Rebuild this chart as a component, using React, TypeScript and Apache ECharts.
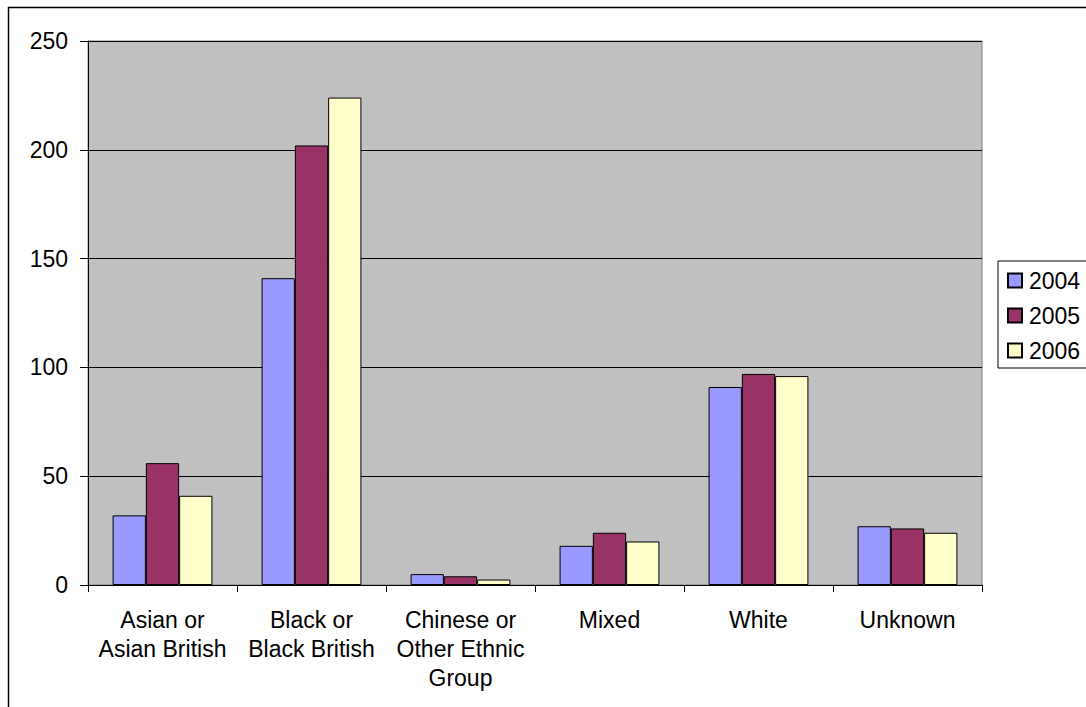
import React, { useEffect, useRef } from "react";
import * as echarts from "echarts";

const categories = [
  "Asian or\nAsian British",
  "Black or\nBlack British",
  "Chinese or\nOther Ethnic\nGroup",
  "Mixed",
  "White",
  "Unknown",
];
const seriesNames = ["2004", "2005", "2006"];
const values2004 = [32, 141, 5, 18, 91, 27];
const values2005 = [56, 202, 4, 24, 97, 26];
const values2006 = [41, 224, 2.5, 20, 96, 24];
const colors = ["#9999FF", "#993366", "#FFFFCC"];
const yTicks = { min: 0, max: 250, interval: 50 };

const FONT = "'Liberation Sans', Arial, sans-serif";

export default function App() {
  const ref = useRef<HTMLDivElement>(null);
  useEffect(() => {
    if (!ref.current) return;
    const chart = echarts.init(ref.current, null, { renderer: "svg" });
    const data = [values2004, values2005, values2006];
    chart.setOption({
      animation: false,
      backgroundColor: "#ffffff",
      textStyle: { fontFamily: FONT, color: "#000" },
      grid: {
        left: 88,
        top: 41,
        right: 104,
        bottom: 122,
        show: true,
        backgroundColor: "#C0C0C0",
        borderColor: "#808080",
        borderWidth: 1,
      },
      legend: {
        orient: "vertical",
        left: 998,
        top: 261,
        padding: [8, 30, 6, 9],
        itemGap: 12,
        itemWidth: 14,
        itemHeight: 14,
        icon: "rect",
        backgroundColor: "#ffffff",
        borderColor: "#000",
        borderWidth: 1,
        textStyle: { fontFamily: FONT, fontSize: 23, lineHeight: 22, color: "#000", padding: [0, 0, 0, 2] },
        data: seriesNames,
      },
      xAxis: {
        type: "category",
        data: categories,
        axisLine: { lineStyle: { color: "#000", width: 1 } },
        axisTick: { show: true, alignWithLabel: false, length: 7, lineStyle: { color: "#000" } },
        axisLabel: {
          interval: 0,
          margin: 20,
          fontFamily: FONT,
          fontSize: 23,
          lineHeight: 29,
          color: "#000",
          align: "center",
        },
      },
      yAxis: {
        type: "value",
        min: yTicks.min,
        max: yTicks.max,
        interval: yTicks.interval,
        axisLine: { show: true, lineStyle: { color: "#000", width: 1 } },
        axisTick: { show: true, length: 8, lineStyle: { color: "#000" } },
        axisLabel: { margin: 20, fontFamily: FONT, fontSize: 23, color: "#000" },
        splitLine: { show: true, lineStyle: { color: "#000", width: 1 } },
      },
      graphic: [
        {
          type: "rect",
          shape: { x: 8.5, y: 7.5, width: 1200, height: 800 },
          style: { fill: "none", stroke: "#000", lineWidth: 1.5 },
          silent: true,
          z: 100,
        },
      ],
      series: seriesNames.map((name, i) => ({
        name,
        type: "bar",
        data: data[i],
        barGap: "0%",
        barCategoryGap: "33%",
        itemStyle: { color: colors[i], borderColor: "#000", borderWidth: 1 },
      })),
    });
    return () => chart.dispose();
  }, []);
  return (
    <div
      ref={ref}
      style={{ position: "fixed", left: 0, top: 0, width: 1086, height: 707 }}
    />
  );
}
